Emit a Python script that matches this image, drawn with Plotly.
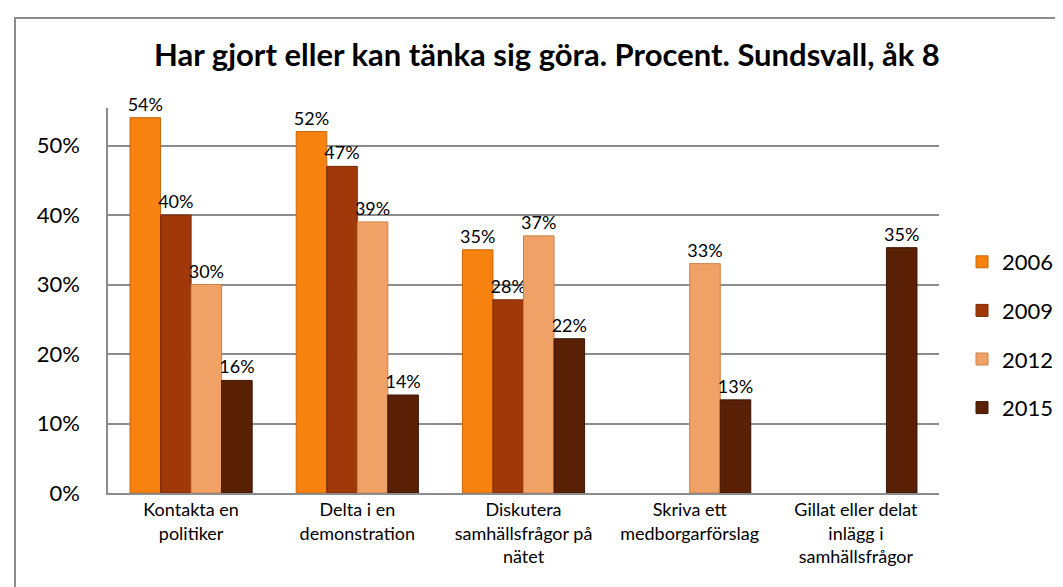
import plotly.graph_objects as go

categories = [
    "Kontakta en<br>politiker",
    "Delta i en<br>demonstration",
    "Diskutera<br>samhällsfrågor på<br>nätet",
    "Skriva ett<br>medborgarförslag",
    "Gillat eller delat<br>inlägg i<br>samhällsfrågor",
]
years = ["2006", "2009", "2012", "2015"]
v2006 = [0.54, 0.52, 0.35, None, None]
v2009 = [0.40, 0.47, 0.278, None, None]
v2012 = [0.30, 0.39, 0.37, 0.33, None]
v2015 = [0.162, 0.141, 0.222, 0.134, 0.353]
series = [v2006, v2009, v2012, v2015]
colors = ["#F7820F", "#A0380A", "#F0A266", "#5A2006"]
edges = ["#C8640A", "#7A2A06", "#C98048", "#3E1604"]
yticks = [0, 0.1, 0.2, 0.3, 0.4, 0.5]
ytick_text = ["0%", "10%", "20%", "30%", "40%", "50%"]

FONT = "Lato"
fig = go.Figure()
for name, vals, c, e in zip(years, series, colors, edges):
    fig.add_trace(go.Bar(
        x=categories, y=vals, name=name, legendgroup=name,
        marker=dict(color=c, line=dict(color=e, width=1)),
        texttemplate="%{y:.0%}", textposition="outside",
        textfont=dict(family=FONT, size=18, color="#000000"),
        constraintext="none", cliponaxis=False,
    ))

# plot area pixel geometry
L, R, T, B = 100, 931, 100, 485
W, H = R - L, B - T

def px(x):
    return (x - L) / W

def py(y):
    return (B - y) / H

fig.update_layout(
    width=1063, height=587,
    margin=dict(l=L, r=1063 - R, t=T, b=587 - B, pad=0, autoexpand=False),
    paper_bgcolor="white", plot_bgcolor="white",
    barmode="group", bargap=0.265, bargroupgap=0,
    title=dict(text="<b>Har gjort eller kan tänka sig göra. Procent. Sundsvall, åk 8</b>",
               x=0.507, xanchor="center", y=1 - 47 / 587, yanchor="middle",
               font=dict(family=FONT, size=31, color="#000000")),
    font=dict(family=FONT, color="#000000"),
    legend=dict(x=px(954), xanchor="left", y=py(327), yanchor="middle",
                font=dict(family=FONT, size=22, color="#000000"),
                tracegroupgap=17, bgcolor="rgba(0,0,0,0)"),
    xaxis=dict(showline=True, linecolor="#8c8c8c", linewidth=1.5,
               tickfont=dict(family=FONT, size=18, color="#000000"),
               ticks="", showgrid=False),
    yaxis=dict(range=[0, H / 695], tickvals=yticks, ticktext=ytick_text,
               showline=True, linecolor="#8c8c8c", linewidth=1.5,
               showgrid=True, gridcolor="#8c8c8c", gridwidth=1.5,
               zeroline=False, ticks="", ticklabelstandoff=22,
               tickfont=dict(family=FONT, size=22, color="#000000")),
    shapes=[dict(type="rect", xref="paper", yref="paper",
                 x0=px(7), x1=px(1075), y0=py(600), y1=py(10),
                 line=dict(color="#8c8c8c", width=2), layer="below")],
)

fig.write_html("out.html")
